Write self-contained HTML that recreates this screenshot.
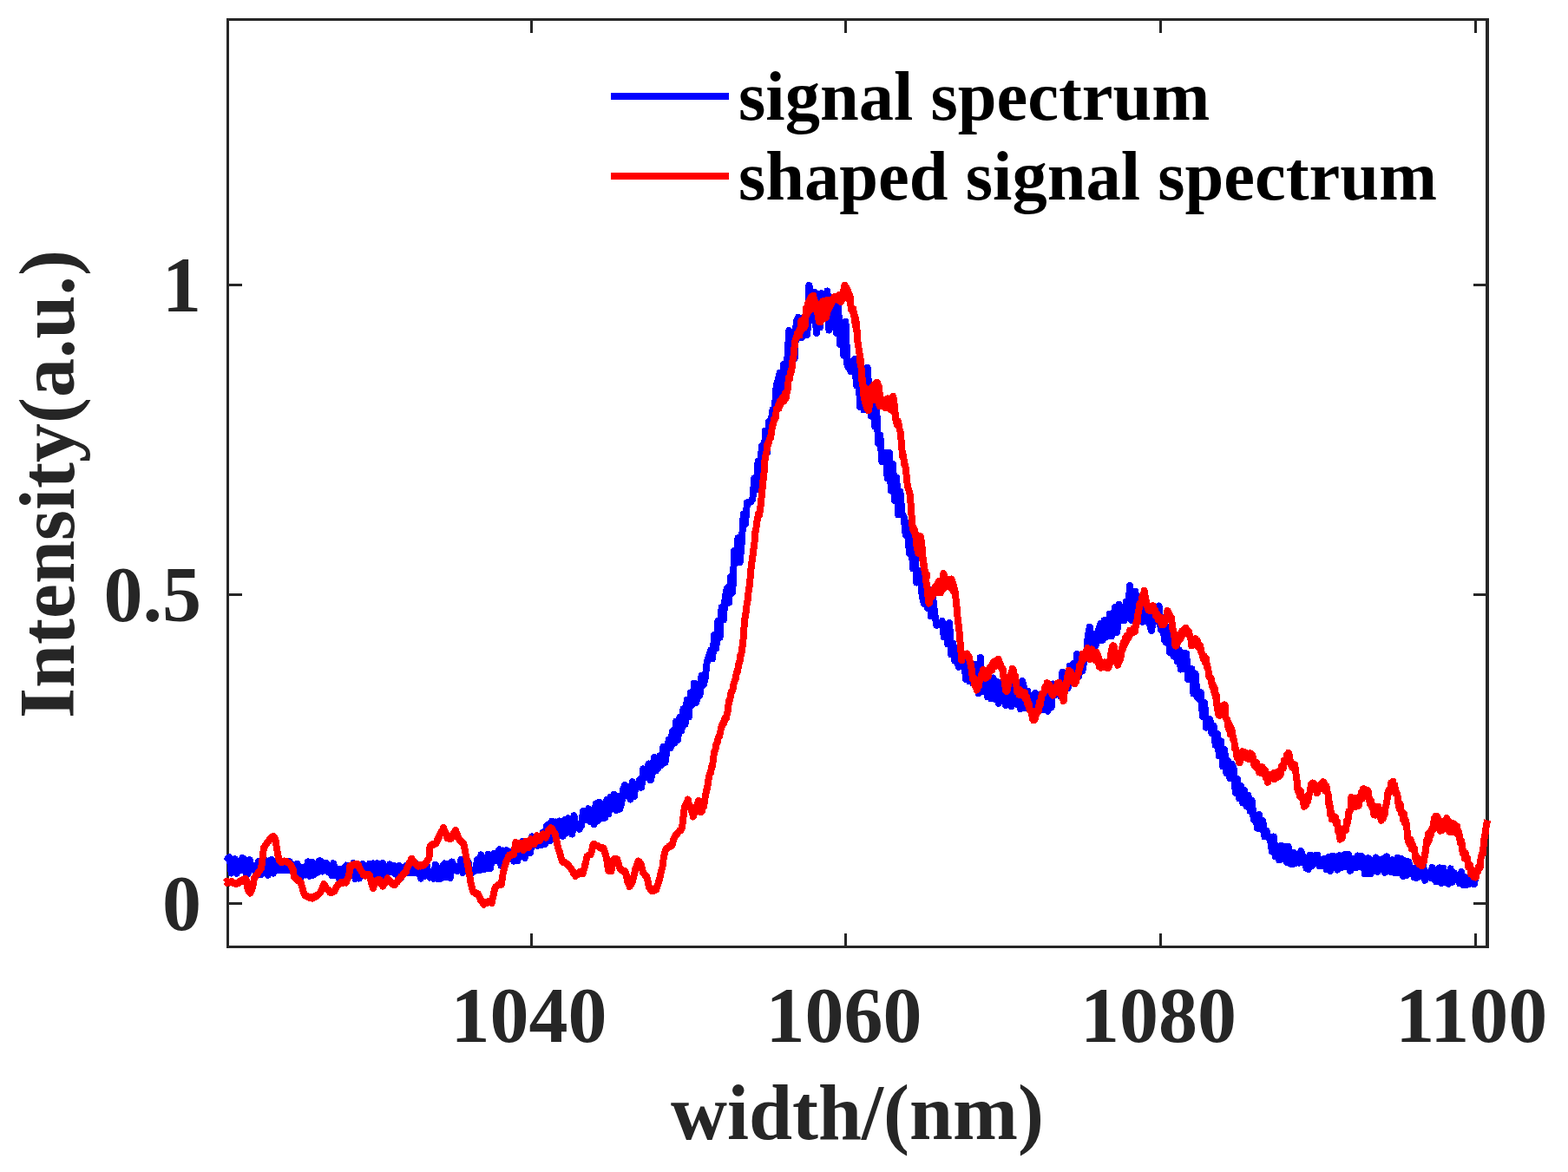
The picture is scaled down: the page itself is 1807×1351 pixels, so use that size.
<!DOCTYPE html>
<html lang="en">
<head>
<meta charset="utf-8">
<title>Signal spectrum and shaped signal spectrum</title>
<style>
html,body{margin:0;padding:0;background:#fff;}
body{width:1807px;height:1351px;overflow:hidden;}
svg{display:block;}
text{font-family:"Liberation Serif",serif;font-weight:bold;}
.tick{font-size:90px;fill:#262626;}
.lab{font-size:90px;fill:#262626;}
.leg{font-size:80.5px;fill:#000;}
</style>
</head>
<body>
<svg width="1807" height="1351" viewBox="0 0 1807 1351">
<rect x="0" y="0" width="1807" height="1351" fill="#ffffff"/>
<g fill="#262626" shape-rendering="crispEdges">
<rect x="261" y="21" width="3" height="1072"/>
<rect x="1712" y="21" width="4" height="1072"/>
<rect x="261" y="21" width="1455" height="3"/>
<rect x="261" y="1090" width="1455" height="3"/>
<rect x="611.0" y="1076" width="3" height="15"/>
<rect x="611.0" y="23" width="3" height="15"/>
<rect x="973.0" y="1076" width="3" height="15"/>
<rect x="973.0" y="23" width="3" height="15"/>
<rect x="1336.0" y="1076" width="3" height="15"/>
<rect x="1336.0" y="23" width="3" height="15"/>
<rect x="1699.0" y="1076" width="3" height="15"/>
<rect x="1699.0" y="23" width="3" height="15"/>
<rect x="263" y="327.0" width="16" height="3"/>
<rect x="1698" y="327.0" width="15" height="3"/>
<rect x="263" y="684.0" width="16" height="3"/>
<rect x="1698" y="684.0" width="15" height="3"/>
<rect x="263" y="1040.0" width="16" height="3"/>
<rect x="1698" y="1040.0" width="15" height="3"/>
</g>
<path d="M262.5,989.7 L264.6,988.2 L266.7,1006.5 L268.8,1002.5 L270.9,990.2 L273.0,1006.8 L275.1,996.6 L277.2,1002.9 L279.3,989.0 L281.4,990.8 L283.5,1006.2 L285.6,1007.5 L287.7,991.2 L289.8,1001.6 L291.9,997.6 L294.0,1003.8 L296.1,1008.1 L298.2,993.0 L300.3,1008.3 L302.4,992.0 L304.5,1006.1 L306.6,992.2 L308.7,1008.7 L310.8,992.5 L312.9,990.9 L315.0,1006.6 L317.1,996.9 L319.2,1003.1 L321.3,991.2 L323.4,1003.2 L325.5,994.2 L327.6,1003.2 L329.7,999.2 L331.8,1003.3 L333.9,993.1 L336.0,1003.3 L338.1,997.2 L340.2,1007.1 L342.3,995.7 L344.4,1008.4 L346.5,999.4 L348.6,1009.7 L350.7,999.5 L352.8,1008.5 L354.9,993.4 L357.0,1009.8 L359.1,993.5 L361.2,1008.7 L363.3,999.8 L365.4,1006.1 L367.5,992.4 L369.6,992.5 L371.7,1004.5 L373.8,995.7 L375.9,994.7 L378.0,1005.0 L380.1,999.1 L382.2,1009.0 L384.3,995.3 L386.4,1009.3 L388.5,1001.7 L390.6,1012.1 L392.7,1002.0 L394.8,1009.9 L396.9,1000.3 L399.0,997.6 L401.1,1008.8 L403.2,1008.9 L405.3,999.3 L407.4,995.1 L409.5,1012.9 L411.6,996.5 L413.7,1012.6 L415.8,997.5 L417.9,996.1 L420.0,1006.2 L422.1,1002.0 L424.2,1009.6 L426.3,995.6 L428.4,1010.6 L430.5,995.4 L432.6,1011.6 L434.7,995.2 L436.8,999.1 L438.9,1011.2 L441.0,994.9 L443.1,1008.8 L445.2,999.1 L447.3,1005.3 L449.4,996.4 L451.5,1005.4 L453.6,997.7 L455.7,1007.5 L457.8,999.5 L459.9,997.9 L462.0,1011.8 L464.1,999.6 L466.2,1005.8 L468.3,998.1 L470.4,1005.9 L472.5,995.8 L474.6,1006.1 L476.7,998.4 L478.8,1006.2 L480.9,996.1 L483.0,1006.3 L485.1,1012.5 L487.2,1000.3 L489.3,1010.2 L491.4,996.4 L493.5,1006.6 L495.6,1011.6 L497.7,1006.8 L499.8,1012.9 L501.9,996.7 L504.0,1013.0 L506.1,1002.9 L508.2,1012.8 L510.3,998.5 L512.4,995.5 L514.5,1011.3 L516.6,995.7 L518.7,1011.9 L520.8,993.4 L522.9,1003.1 L525.0,998.4 L527.1,1004.1 L529.2,1001.5 L531.3,991.0 L533.4,1005.9 L535.5,996.6 L537.6,1002.5 L539.7,994.0 L541.8,1007.8 L543.9,1005.9 L546.0,1004.4 L548.1,1002.9 L550.2,991.0 L552.3,1003.2 L554.4,985.4 L556.5,990.4 L558.6,1002.0 L560.7,997.1 L562.8,984.9 L564.9,1001.3 L567.0,988.3 L569.1,984.0 L571.2,991.8 L573.3,983.6 L575.4,979.2 L577.5,997.6 L579.6,980.5 L581.7,998.9 L583.8,980.1 L585.9,990.5 L588.0,982.3 L590.1,985.8 L592.2,992.5 L594.3,979.3 L596.4,992.5 L598.5,978.3 L600.6,985.5 L602.7,969.6 L604.8,988.9 L606.9,975.1 L609.0,973.7 L611.1,983.3 L613.2,964.4 L615.3,973.8 L617.4,965.7 L619.5,974.7 L621.6,964.8 L623.7,974.4 L625.8,959.5 L627.9,973.2 L630.0,951.9 L632.1,950.4 L634.2,968.8 L636.3,946.6 L638.4,961.6 L640.5,947.5 L642.6,963.8 L644.7,946.5 L646.8,952.9 L648.9,963.8 L651.0,945.1 L653.1,959.9 L655.2,943.3 L657.3,949.2 L659.4,961.5 L661.5,940.3 L663.6,953.1 L665.7,949.8 L667.8,955.7 L669.9,951.9 L672.0,935.1 L674.1,936.9 L676.2,944.8 L678.3,932.2 L680.4,947.2 L682.5,937.3 L684.6,950.0 L686.7,926.5 L688.8,946.3 L690.9,924.5 L693.0,926.9 L695.1,943.5 L697.2,942.5 L699.3,921.9 L701.4,938.2 L703.5,918.9 L705.6,931.9 L707.7,915.9 L709.8,933.9 L711.9,917.8 L714.0,932.9 L716.1,926.6 L718.2,909.9 L720.3,904.8 L722.4,910.0 L724.5,918.2 L726.6,921.4 L728.7,901.3 L730.8,918.1 L732.9,903.8 L735.0,906.5 L737.1,899.0 L739.2,907.8 L741.3,886.4 L743.4,896.7 L745.5,889.1 L747.6,880.5 L749.7,899.4 L751.8,891.7 L753.9,873.0 L756.0,888.5 L758.1,885.8 L760.2,871.4 L762.3,882.0 L764.4,861.0 L766.5,878.9 L768.6,864.9 L770.7,852.9 L772.8,862.4 L774.9,843.0 L777.0,856.6 L779.1,831.8 L781.2,852.8 L783.3,827.1 L785.4,842.6 L787.5,817.2 L789.6,834.7 L791.7,807.0 L793.8,826.5 L795.9,798.5 L798.0,812.2 L800.1,787.5 L802.2,810.0 L804.3,799.7 L806.4,801.8 L808.5,779.0 L810.6,789.8 L812.7,781.5 L814.8,762.5 L816.9,756.2 L819.0,749.9 L821.1,759.3 L823.2,732.1 L825.3,747.7 L827.4,716.0 L829.5,734.8 L831.6,700.3 L833.7,714.6 L835.8,687.5 L837.9,678.2 L840.0,694.7 L842.1,664.8 L844.2,682.9 L846.3,634.8 L848.4,648.8 L850.5,620.3 L852.6,648.2 L854.7,626.2 L856.8,592.8 L858.9,603.9 L861.0,579.4 L863.1,579.3 L865.2,578.4 L867.3,575.7 L869.4,551.3 L871.5,564.2 L873.6,531.7 L875.7,555.0 L877.8,514.3 L879.9,542.2 L882.0,496.5 L884.1,521.8 L886.2,486.2 L888.3,489.3 L890.4,472.5 L892.5,475.4 L894.6,445.5 L896.7,437.6 L898.8,429.8 L900.9,460.2 L903.0,420.3 L905.1,440.9 L907.2,415.8 L909.3,381.0 L911.4,390.1 L913.5,414.0 L915.6,413.6 L917.7,371.1 L919.8,366.0 L921.9,368.2 L924.0,389.2 L926.1,366.1 L928.2,382.2 L930.3,386.1 L932.4,329.0 L934.5,340.0 L936.6,368.9 L938.7,336.8 L940.8,384.0 L942.9,339.1 L945.0,377.3 L947.1,338.3 L949.2,351.8 L951.3,363.1 L953.4,335.5 L955.5,380.6 L957.6,351.5 L959.7,369.5 L961.8,352.4 L963.9,383.7 L966.0,352.3 L968.1,397.1 L970.2,375.5 L972.3,409.6 L974.4,370.9 L976.5,421.1 L978.6,424.6 L980.7,428.3 L982.8,416.4 L984.9,413.9 L987.0,444.3 L989.1,428.5 L991.2,469.0 L993.3,441.6 L995.4,472.5 L997.5,450.8 L999.6,424.0 L1001.7,452.7 L1003.8,479.5 L1005.9,460.0 L1008.0,491.2 L1010.1,471.9 L1012.2,510.9 L1014.3,501.8 L1016.4,532.4 L1018.5,527.3 L1020.6,521.9 L1022.7,551.3 L1024.8,521.9 L1026.9,565.6 L1029.0,535.1 L1031.1,577.2 L1033.2,550.5 L1035.3,593.4 L1037.4,566.4 L1039.5,592.7 L1041.6,595.7 L1043.7,616.7 L1045.8,603.4 L1047.9,638.0 L1050.0,621.6 L1052.1,655.4 L1054.2,629.4 L1056.3,671.6 L1058.4,669.9 L1060.5,658.1 L1062.6,686.3 L1064.7,695.6 L1066.8,667.3 L1068.9,701.1 L1071.0,679.5 L1073.1,710.5 L1075.2,689.1 L1077.3,708.6 L1079.4,720.7 L1081.5,719.7 L1083.6,719.6 L1085.7,715.9 L1087.8,734.1 L1089.9,722.2 L1092.0,742.3 L1094.1,718.1 L1096.2,754.4 L1098.3,741.5 L1100.4,761.7 L1102.5,747.0 L1104.6,768.7 L1106.7,756.4 L1108.8,768.5 L1110.9,757.0 L1113.0,783.1 L1115.1,757.4 L1117.2,785.4 L1119.3,765.9 L1121.4,787.4 L1123.5,765.6 L1125.6,773.8 L1127.7,799.4 L1129.8,758.0 L1131.9,796.9 L1134.0,779.7 L1136.1,789.0 L1138.2,803.5 L1140.3,783.7 L1142.4,805.5 L1144.5,781.5 L1146.6,805.7 L1148.7,785.9 L1150.8,810.8 L1152.9,787.0 L1155.0,808.2 L1157.1,794.2 L1159.2,812.9 L1161.3,792.8 L1163.4,793.2 L1165.5,814.1 L1167.6,790.3 L1169.7,792.6 L1171.8,811.7 L1173.9,798.1 L1176.0,817.2 L1178.1,785.0 L1180.2,792.7 L1182.3,816.5 L1184.4,796.7 L1186.5,815.3 L1188.6,801.6 L1190.7,822.5 L1192.8,799.1 L1194.9,817.2 L1197.0,801.3 L1199.1,803.3 L1201.2,817.8 L1203.3,800.1 L1205.4,818.2 L1207.5,819.6 L1209.6,795.1 L1211.7,815.1 L1213.8,788.5 L1215.9,801.1 L1218.0,792.3 L1220.1,789.6 L1222.2,802.3 L1224.3,774.9 L1226.4,795.4 L1228.5,776.4 L1230.6,793.1 L1232.7,767.8 L1234.8,785.1 L1236.9,765.3 L1239.0,782.4 L1241.1,753.9 L1243.2,779.4 L1245.3,760.9 L1247.4,773.7 L1249.5,759.7 L1251.6,759.2 L1253.7,734.2 L1255.8,722.6 L1257.9,748.6 L1260.0,731.0 L1262.1,744.9 L1264.2,739.4 L1266.3,725.1 L1268.4,718.8 L1270.5,738.0 L1272.6,715.2 L1274.7,734.5 L1276.8,726.7 L1278.9,707.8 L1281.0,733.4 L1283.1,711.1 L1285.2,699.9 L1287.3,728.8 L1289.4,696.9 L1291.5,715.5 L1293.6,700.8 L1295.7,715.2 L1297.8,693.5 L1299.9,709.6 L1302.0,675.0 L1304.1,715.1 L1306.2,712.6 L1308.3,681.8 L1310.4,716.0 L1312.5,687.4 L1314.6,689.8 L1316.7,716.9 L1318.8,714.1 L1320.9,716.1 L1323.0,699.3 L1325.1,720.2 L1327.2,727.2 L1329.3,702.1 L1331.4,716.4 L1333.5,707.1 L1335.6,698.5 L1337.7,725.7 L1339.8,712.0 L1341.9,737.6 L1344.0,740.5 L1346.1,723.3 L1348.2,752.1 L1350.3,732.7 L1352.4,756.0 L1354.5,732.9 L1356.6,762.5 L1358.7,749.3 L1360.8,771.5 L1362.9,752.6 L1365.0,771.4 L1367.1,753.4 L1369.2,783.1 L1371.3,775.3 L1373.4,770.9 L1375.5,799.6 L1377.6,776.8 L1379.7,803.3 L1381.8,805.7 L1383.9,798.2 L1386.0,825.9 L1388.1,809.8 L1390.2,838.7 L1392.3,836.5 L1394.4,829.2 L1396.5,845.5 L1398.6,836.6 L1400.7,858.9 L1402.8,845.7 L1404.9,871.3 L1407.0,854.3 L1409.1,883.3 L1411.2,863.9 L1413.3,891.2 L1415.4,877.2 L1417.5,897.3 L1419.6,880.9 L1421.7,886.2 L1423.8,913.8 L1425.9,897.8 L1428.0,920.3 L1430.1,905.9 L1432.2,925.3 L1434.3,911.1 L1436.4,928.8 L1438.5,916.9 L1440.6,934.9 L1442.7,923.0 L1444.8,945.0 L1446.9,939.1 L1449.0,954.6 L1451.1,939.0 L1453.2,955.6 L1455.3,946.2 L1457.4,964.5 L1459.5,957.4 L1461.6,965.2 L1463.7,964.8 L1465.8,981.5 L1467.9,964.5 L1470.0,987.5 L1472.1,975.6 L1474.2,991.3 L1476.3,974.7 L1478.4,990.3 L1480.5,975.6 L1482.6,993.7 L1484.7,976.0 L1486.8,995.7 L1488.9,996.3 L1491.0,982.6 L1493.1,995.0 L1495.2,987.7 L1497.3,994.6 L1499.4,981.0 L1501.5,993.8 L1503.6,988.1 L1505.7,1001.3 L1507.8,1001.9 L1509.9,985.6 L1512.0,998.1 L1514.1,989.7 L1516.2,985.6 L1518.3,985.6 L1520.4,998.1 L1522.5,991.8 L1524.6,998.1 L1526.7,989.7 L1528.8,1002.2 L1530.9,988.1 L1533.0,1004.0 L1535.1,987.0 L1537.2,987.1 L1539.3,990.1 L1541.4,1002.7 L1543.5,986.2 L1545.6,1000.4 L1547.7,986.4 L1549.8,984.8 L1551.9,999.1 L1554.0,985.1 L1556.1,1003.7 L1558.2,999.8 L1560.3,990.1 L1562.4,1000.3 L1564.5,986.5 L1566.6,998.7 L1568.7,987.0 L1570.8,988.9 L1572.9,1007.4 L1575.0,989.5 L1577.1,989.4 L1579.2,1007.4 L1581.3,993.1 L1583.4,1004.1 L1585.5,988.5 L1587.6,1004.9 L1589.7,990.6 L1591.8,1002.0 L1593.9,990.2 L1596.0,1005.7 L1598.1,987.4 L1600.2,1003.2 L1602.3,1004.9 L1604.4,991.3 L1606.5,1005.9 L1608.6,1006.3 L1610.7,988.7 L1612.8,1006.0 L1614.9,989.7 L1617.0,1009.9 L1619.1,992.3 L1621.2,1009.2 L1623.3,993.3 L1625.4,1004.0 L1627.5,1000.5 L1629.6,1011.3 L1631.7,1011.8 L1633.8,998.6 L1635.9,1010.5 L1638.0,1007.4 L1640.1,996.3 L1642.2,1014.7 L1644.3,1009.2 L1646.4,1005.7 L1648.5,1011.9 L1650.6,999.9 L1652.7,1012.1 L1654.8,1016.3 L1656.9,1016.4 L1659.0,1000.4 L1661.1,1018.2 L1663.2,1000.6 L1665.3,1016.8 L1667.4,1006.8 L1669.5,1018.7 L1671.6,1001.4 L1673.7,1016.7 L1675.8,1006.3 L1677.9,1012.7 L1680.0,1009.1 L1682.1,1018.3 L1684.2,1005.1 L1686.3,1020.3 L1688.4,1010.8 L1690.5,1019.9 L1692.6,1019.3 L1694.7,1010.3 L1696.8,1005.3 L1698.9,1019.3 L1701.0,1006.4" fill="none" stroke="#0000ff" stroke-width="8" stroke-linejoin="round" stroke-linecap="round" shape-rendering="crispEdges"/>
<path d="M259.5,1017.2 L260.5,1016.4 L261.6,1017.8 L262.6,1016.3 L263.6,1017.1 L264.6,1017.5 L265.7,1016.4 L266.7,1017.0 L267.8,1016.4 L268.9,1018.0 L270.0,1017.6 L271.1,1017.8 L272.2,1019.0 L273.3,1017.8 L274.4,1018.3 L275.5,1016.7 L276.7,1015.7 L277.8,1016.4 L278.9,1014.6 L280.0,1015.2 L281.1,1013.5 L282.2,1013.1 L283.3,1013.1 L284.1,1016.2 L284.8,1021.5 L285.6,1024.6 L286.5,1027.2 L287.4,1027.2 L288.3,1029.6 L289.2,1027.4 L290.2,1025.7 L291.1,1022.6 L292.2,1016.5 L293.3,1011.4 L294.4,1010.7 L295.6,1008.2 L296.7,1007.7 L297.8,1005.7 L298.9,1004.1 L300.0,1002.6 L301.1,1000.4 L302.0,994.6 L302.8,987.3 L303.9,977.1 L304.9,976.4 L305.9,973.9 L306.8,973.3 L307.8,971.6 L308.9,970.4 L310.0,969.4 L311.1,967.0 L312.2,966.9 L313.4,965.1 L314.5,964.0 L315.6,964.3 L316.7,965.9 L317.8,969.6 L318.6,975.7 L319.4,980.3 L320.2,985.6 L321.1,989.2 L322.2,992.2 L323.3,993.7 L324.4,993.9 L325.5,992.8 L326.7,993.5 L327.8,992.5 L328.9,993.1 L330.0,992.9 L331.1,994.3 L332.2,994.6 L333.3,994.9 L334.4,996.3 L335.5,997.9 L336.7,1001.1 L337.8,1002.4 L338.9,1011.0 L340.0,1011.5 L341.1,1012.4 L342.2,1014.1 L343.3,1015.1 L344.4,1014.8 L345.6,1016.6 L346.7,1017.0 L347.8,1021.5 L348.9,1024.6 L350.0,1028.9 L351.1,1031.5 L352.2,1032.8 L353.4,1032.6 L354.5,1033.8 L355.6,1033.5 L356.7,1034.7 L357.8,1034.1 L358.9,1034.0 L360.0,1035.5 L361.1,1034.6 L362.2,1034.7 L363.4,1032.8 L364.5,1033.2 L365.6,1031.5 L366.7,1031.3 L367.8,1030.2 L368.9,1029.0 L370.0,1026.8 L371.1,1024.8 L372.2,1021.3 L373.3,1019.1 L374.4,1021.1 L375.6,1022.6 L376.7,1025.2 L377.8,1025.4 L378.9,1026.5 L380.0,1028.5 L381.1,1029.2 L382.2,1029.3 L383.4,1027.6 L384.5,1028.0 L385.6,1027.5 L386.7,1024.4 L387.8,1022.1 L388.9,1021.0 L390.0,1019.3 L391.1,1019.1 L392.2,1017.5 L393.3,1016.8 L394.4,1017.0 L395.5,1017.9 L396.7,1017.4 L397.8,1016.8 L398.9,1017.5 L400.0,1013.9 L401.1,1012.2 L402.2,1009.8 L403.3,998.2 L404.4,998.2 L405.6,998.0 L406.7,996.8 L407.8,997.4 L408.9,996.2 L410.0,997.2 L411.1,995.8 L412.2,996.3 L413.3,997.6 L414.5,1001.3 L415.6,1002.6 L416.7,1005.1 L417.8,1005.9 L418.9,1008.5 L420.0,1009.1 L421.1,1009.7 L422.2,1008.3 L423.4,1009.2 L424.5,1008.0 L425.6,1008.4 L426.7,1012.0 L427.8,1017.3 L428.9,1019.8 L430.0,1024.1 L431.1,1021.1 L432.2,1018.0 L433.3,1016.4 L434.4,1014.8 L435.6,1015.7 L436.7,1013.8 L437.8,1014.3 L438.9,1016.3 L440.0,1019.8 L441.1,1021.6 L442.2,1019.6 L443.4,1018.1 L444.5,1015.4 L445.6,1014.4 L446.7,1012.4 L447.8,1014.3 L448.9,1014.8 L450.0,1015.9 L451.1,1018.0 L452.2,1018.2 L453.3,1019.9 L454.4,1020.3 L455.5,1019.8 L456.6,1016.9 L457.8,1016.7 L458.9,1014.5 L460.0,1013.6 L461.1,1011.9 L462.2,1010.2 L463.3,1010.2 L464.5,1007.6 L465.6,1007.7 L466.7,1005.7 L467.8,1005.3 L468.9,1001.5 L469.9,998.8 L470.9,997.2 L472.0,993.7 L472.8,993.4 L473.6,990.9 L474.4,989.7 L475.5,992.1 L476.6,992.1 L477.8,994.7 L478.9,996.1 L480.0,996.2 L481.1,998.1 L482.2,998.6 L483.3,997.6 L484.4,998.5 L485.6,997.3 L486.7,998.2 L487.8,997.1 L488.9,997.0 L490.0,995.9 L491.1,993.7 L492.2,992.3 L493.3,990.4 L494.4,989.6 L495.0,981.8 L495.6,975.3 L496.7,974.1 L497.8,974.5 L498.9,973.2 L500.0,973.7 L501.1,972.6 L502.2,972.6 L503.3,971.0 L504.4,967.2 L505.6,965.9 L506.7,962.6 L507.8,961.4 L508.9,957.9 L510.0,957.2 L511.1,954.0 L512.2,958.0 L513.4,959.5 L514.5,963.0 L515.6,966.4 L516.7,965.5 L517.8,966.7 L518.9,965.5 L520.0,966.5 L521.0,963.6 L522.0,962.8 L523.0,960.1 L524.0,959.5 L525.0,956.9 L526.0,960.1 L527.0,961.5 L527.9,965.4 L528.9,967.0 L530.0,969.0 L531.1,968.9 L532.2,971.3 L533.3,971.3 L534.4,973.0 L535.3,976.9 L536.3,983.1 L537.2,987.0 L538.1,992.8 L539.1,996.9 L540.0,1003.1 L540.9,1007.8 L541.9,1013.2 L542.8,1019.8 L543.7,1022.2 L544.7,1026.0 L545.6,1028.1 L546.7,1029.0 L547.8,1028.8 L548.9,1030.4 L550.0,1030.6 L551.1,1030.4 L552.2,1033.6 L553.3,1035.3 L554.4,1038.5 L555.5,1039.0 L556.7,1041.6 L557.8,1042.6 L558.9,1040.8 L560.0,1040.2 L561.1,1040.8 L562.2,1039.2 L563.3,1039.0 L564.5,1040.4 L565.6,1040.1 L566.7,1040.9 L567.8,1035.2 L568.9,1030.9 L570.0,1025.5 L571.1,1022.1 L572.2,1022.0 L573.3,1020.4 L574.5,1020.1 L575.6,1020.4 L576.7,1019.6 L577.8,1019.7 L578.9,1011.5 L580.0,1005.4 L581.1,1000.7 L582.2,998.0 L583.3,993.5 L584.4,991.5 L585.6,988.1 L586.7,985.9 L587.8,986.3 L588.9,985.2 L590.0,985.7 L591.1,984.5 L592.2,985.2 L593.3,977.3 L594.4,971.1 L595.3,974.1 L596.1,975.8 L597.0,979.3 L598.0,976.0 L599.0,974.5 L600.0,971.8 L601.0,975.4 L602.0,976.6 L603.0,980.1 L604.0,976.1 L605.0,974.0 L606.0,969.8 L607.0,973.0 L608.0,974.2 L609.0,977.2 L610.0,973.0 L611.0,970.5 L612.0,967.2 L612.9,968.3 L613.8,970.2 L614.7,971.3 L615.6,973.1 L616.7,970.1 L617.9,965.6 L619.0,963.2 L620.0,964.4 L621.0,966.3 L622.0,969.3 L623.0,966.3 L624.0,965.6 L625.0,962.3 L626.0,961.4 L627.0,962.1 L628.0,964.5 L629.0,965.6 L630.0,963.2 L631.0,959.8 L632.0,957.3 L632.9,955.9 L633.8,956.3 L634.7,954.3 L635.6,954.7 L636.7,956.1 L637.8,959.0 L638.9,959.5 L640.0,962.4 L641.1,968.0 L642.2,973.0 L643.3,978.1 L644.5,980.8 L645.6,985.3 L646.7,988.9 L647.8,993.0 L648.9,994.3 L650.0,993.4 L651.1,994.8 L652.2,994.7 L653.3,996.0 L654.4,996.9 L655.6,998.2 L656.7,1000.0 L657.8,1000.8 L658.9,1002.7 L660.0,1004.4 L661.1,1007.0 L662.2,1008.4 L663.3,1009.8 L664.4,1008.7 L665.5,1008.4 L666.7,1006.5 L667.8,1005.4 L668.8,1006.3 L669.8,1006.6 L670.7,1006.2 L671.7,1006.9 L672.6,1002.7 L673.5,1000.7 L674.4,996.4 L675.2,994.1 L675.9,989.3 L676.7,986.8 L677.8,986.3 L678.9,985.3 L680.0,985.5 L681.1,984.1 L682.2,980.1 L683.3,974.1 L684.1,974.6 L684.8,973.0 L685.6,973.5 L686.7,974.7 L687.8,975.1 L688.9,975.1 L690.0,976.2 L691.1,976.5 L692.2,977.7 L693.4,976.7 L694.5,977.7 L695.6,977.6 L696.7,981.7 L697.8,984.5 L698.9,989.1 L700.0,995.7 L701.1,1003.7 L702.2,1004.4 L703.3,1003.3 L704.4,1004.2 L705.2,1000.7 L705.9,996.2 L706.7,991.5 L707.8,990.1 L708.9,990.0 L710.0,990.1 L711.1,990.2 L712.0,992.8 L713.0,996.9 L713.9,999.9 L714.8,1001.7 L715.8,1002.0 L716.7,1003.6 L717.8,1003.3 L718.9,1005.2 L720.0,1004.3 L721.1,1005.8 L722.2,1010.6 L723.3,1016.3 L724.1,1017.8 L724.8,1019.3 L725.6,1022.0 L726.7,1019.3 L727.8,1018.9 L728.9,1016.4 L730.0,1011.3 L731.1,1007.7 L732.2,1002.0 L733.3,999.6 L734.5,995.3 L735.6,992.6 L736.7,993.1 L737.8,994.6 L738.9,996.6 L740.0,1001.9 L741.1,1006.3 L742.2,1007.1 L743.4,1009.1 L744.5,1009.4 L745.6,1011.5 L746.7,1016.1 L747.8,1022.3 L748.9,1024.0 L750.0,1026.3 L751.0,1026.9 L752.1,1025.6 L753.1,1026.7 L754.2,1025.4 L755.2,1026.0 L756.3,1025.3 L757.2,1021.8 L758.1,1020.1 L759.1,1015.8 L760.0,1013.5 L761.1,1008.4 L762.2,1003.7 L763.3,1000.4 L764.1,994.2 L764.8,988.9 L765.6,984.7 L766.7,980.7 L767.8,978.0 L768.9,977.9 L770.0,977.4 L771.1,975.5 L772.2,976.2 L773.3,974.5 L774.4,974.7 L775.2,971.7 L775.9,968.3 L776.7,965.9 L777.8,964.9 L778.9,962.2 L780.0,962.1 L781.1,960.3 L782.2,958.5 L783.4,957.2 L784.5,957.5 L785.6,955.4 L786.4,950.8 L787.2,944.6 L788.0,936.7 L788.9,930.4 L789.9,927.8 L790.8,926.4 L791.8,924.4 L792.8,921.6 L793.7,926.0 L794.7,927.8 L795.6,931.5 L796.7,933.8 L797.8,937.1 L798.9,941.5 L800.0,937.4 L801.1,934.8 L802.2,930.6 L803.1,929.2 L804.1,926.3 L805.0,923.0 L805.9,928.1 L806.9,931.5 L807.8,936.3 L808.9,934.9 L810.0,930.1 L811.1,929.7 L812.2,921.4 L813.3,916.1 L814.1,910.8 L814.8,910.1 L815.6,904.8 L816.7,897.5 L817.8,891.9 L818.9,891.0 L820.0,884.3 L821.1,882.7 L822.2,872.8 L823.3,866.3 L824.4,863.8 L825.5,857.9 L826.7,856.0 L827.8,850.3 L828.9,849.3 L830.0,844.4 L831.1,839.2 L832.2,835.8 L833.3,832.8 L834.4,833.3 L835.6,827.4 L836.7,828.4 L837.8,823.6 L838.9,818.6 L840.0,808.0 L841.1,807.2 L842.2,799.9 L843.3,796.7 L844.4,795.0 L845.6,788.2 L846.7,785.0 L847.8,782.0 L848.9,775.2 L850.0,774.1 L850.8,768.2 L851.7,763.5 L852.5,763.4 L853.4,754.9 L854.3,754.7 L855.2,746.9 L856.1,743.6 L857.2,725.6 L858.0,718.5 L858.9,708.1 L859.8,705.6 L860.8,694.9 L861.7,691.4 L862.8,679.8 L863.9,675.0 L865.0,660.5 L866.1,649.6 L867.2,643.3 L868.3,633.7 L869.4,627.1 L870.0,614.5 L871.1,611.6 L872.2,601.7 L873.3,596.9 L874.2,591.9 L875.2,593.7 L876.1,585.7 L877.0,581.7 L877.8,569.7 L878.9,560.1 L879.8,550.2 L880.6,544.3 L881.4,531.6 L882.2,525.4 L883.3,522.4 L884.4,511.5 L885.5,512.2 L886.7,506.0 L887.8,505.4 L888.9,499.3 L890.0,491.3 L891.1,488.2 L892.2,482.9 L893.3,482.8 L894.1,480.5 L894.8,471.1 L895.6,471.6 L896.6,468.2 L897.5,471.0 L898.5,463.1 L899.5,466.4 L900.5,461.3 L901.6,458.3 L902.6,463.0 L903.6,462.2 L904.6,453.6 L905.7,459.0 L906.7,452.5 L907.8,448.3 L908.9,435.3 L910.0,437.0 L911.1,428.8 L912.2,428.0 L913.3,416.0 L914.4,411.9 L915.0,402.1 L915.6,400.3 L916.7,391.2 L917.8,390.0 L918.9,384.5 L920.0,386.1 L921.1,380.6 L922.2,382.6 L923.3,375.9 L924.5,378.6 L925.6,371.9 L926.7,371.0 L927.8,364.0 L928.6,363.0 L929.4,356.7 L930.2,353.9 L930.9,351.1 L931.7,348.3 L932.6,346.5 L933.5,344.6 L934.4,342.8 L935.2,342.2 L935.9,341.7 L936.7,341.1 L937.8,343.9 L938.9,346.6 L940.0,349.4 L941.0,354.8 L942.0,360.1 L942.9,365.4 L943.9,370.8 L945.0,363.7 L946.1,356.5 L947.2,349.4 L948.0,348.3 L948.9,347.2 L949.9,353.6 L950.9,360.0 L951.9,366.4 L952.9,362.2 L954.0,358.1 L955.0,353.9 L956.0,351.9 L957.0,350.0 L957.9,348.1 L958.9,346.1 L960.0,344.5 L961.1,342.8 L962.2,343.0 L963.3,343.2 L964.5,343.5 L965.6,343.7 L966.7,343.9 L967.6,345.2 L968.5,346.5 L969.4,347.8 L970.2,344.3 L970.9,340.7 L971.7,337.2 L972.7,333.1 L973.6,329.0 L974.6,330.8 L975.7,332.6 L976.7,334.4 L977.8,337.2 L978.9,340.0 L980.0,342.8 L980.6,353.9 L981.5,355.7 L982.4,357.6 L983.3,359.4 L984.1,363.6 L985.0,367.8 L985.9,372.0 L986.7,376.1 L987.8,384.4 L988.3,392.8 L989.1,398.4 L990.0,403.9 L990.6,407.9 L991.3,412.0 L992.0,419.4 L992.8,426.7 L993.5,435.0 L994.2,443.3 L995.2,451.6 L996.1,460.0 L997.0,463.3 L998.0,466.7 L998.9,470.0 L999.8,471.6 L1000.8,473.2 L1001.6,467.6 L1002.5,462.0 L1003.5,456.0 L1004.5,450.0 L1005.5,447.7 L1006.5,445.3 L1007.5,443.0 L1008.6,442.3 L1009.7,441.6 L1010.8,440.9 L1011.9,443.4 L1013.0,446.0 L1013.8,455.0 L1014.4,462.8 L1015.2,464.3 L1015.9,465.7 L1016.7,467.2 L1017.8,464.4 L1018.9,461.7 L1019.8,464.3 L1020.8,466.8 L1021.7,469.4 L1022.5,464.4 L1023.3,459.4 L1024.2,463.5 L1025.2,467.6 L1026.1,471.7 L1027.2,466.9 L1028.3,462.0 L1029.4,457.2 L1030.0,461.4 L1030.6,465.6 L1031.7,476.7 L1032.8,485.0 L1033.7,489.1 L1034.7,485.1 L1035.6,488.7 L1036.7,494.9 L1037.8,498.1 L1038.9,511.3 L1040.0,525.4 L1041.1,525.3 L1042.2,536.2 L1043.3,536.5 L1044.4,546.3 L1045.0,550.1 L1045.6,558.6 L1046.7,563.3 L1047.8,566.7 L1048.7,569.8 L1049.5,580.0 L1050.6,595.2 L1051.4,604.4 L1052.2,610.0 L1053.3,612.6 L1054.5,615.2 L1055.6,617.8 L1056.6,618.6 L1057.5,619.4 L1058.5,620.2 L1059.5,621.0 L1060.4,621.8 L1061.4,622.6 L1060.4,625.8 L1059.3,629.0 L1058.3,632.2 L1059.4,634.7 L1060.5,637.2 L1061.7,639.7 L1062.8,642.2 L1063.6,647.2 L1064.4,652.2 L1065.0,655.0 L1065.6,657.8 L1066.4,662.3 L1067.2,669.9 L1068.1,673.4 L1068.9,682.0 L1070.0,692.0 L1071.1,694.9 L1072.2,686.0 L1073.3,684.7 L1074.4,687.3 L1075.5,679.6 L1076.7,682.7 L1077.8,676.0 L1078.9,675.6 L1080.0,674.5 L1081.1,673.3 L1082.2,672.2 L1083.1,674.4 L1084.1,676.7 L1085.0,678.9 L1086.1,670.3 L1087.2,661.7 L1088.1,666.3 L1089.1,671.0 L1090.0,675.6 L1091.1,671.7 L1092.2,667.8 L1093.3,672.2 L1094.4,676.7 L1095.6,672.2 L1096.7,667.8 L1097.6,670.8 L1098.5,673.7 L1099.4,676.7 L1100.2,681.2 L1101.1,686.5 L1102.2,695.8 L1103.3,709.0 L1104.4,718.6 L1105.2,724.0 L1106.1,734.4 L1107.2,748.6 L1108.3,761.2 L1109.3,756.1 L1110.3,755.7 L1111.3,753.8 L1112.3,754.5 L1113.3,755.5 L1114.4,753.6 L1115.5,756.2 L1116.7,756.8 L1117.8,763.5 L1118.9,765.4 L1120.0,774.6 L1121.1,783.2 L1122.2,781.6 L1123.3,789.4 L1124.4,786.5 L1125.6,795.7 L1126.7,792.7 L1127.8,791.4 L1128.9,783.5 L1130.0,783.1 L1130.9,778.2 L1131.9,779.8 L1132.8,772.1 L1133.8,777.8 L1134.8,773.1 L1135.7,781.8 L1136.7,780.9 L1137.8,775.9 L1138.9,779.6 L1140.0,770.7 L1141.1,773.5 L1142.2,767.8 L1143.3,772.4 L1144.5,763.8 L1145.6,766.9 L1146.6,762.2 L1147.6,767.8 L1148.7,761.6 L1149.7,765.8 L1150.7,759.6 L1151.7,763.6 L1152.7,765.4 L1153.7,768.0 L1154.6,771.7 L1155.6,770.5 L1156.7,783.0 L1157.8,784.6 L1158.9,795.8 L1160.0,797.0 L1161.1,794.4 L1162.2,787.8 L1163.3,786.0 L1164.4,778.2 L1165.6,779.8 L1166.7,770.8 L1167.8,772.7 L1168.9,780.9 L1170.0,778.5 L1171.1,788.8 L1172.2,797.3 L1173.3,795.4 L1174.5,800.8 L1175.6,795.3 L1176.7,800.3 L1177.8,797.1 L1178.9,802.2 L1180.0,802.5 L1181.1,798.3 L1182.2,806.1 L1183.3,803.2 L1184.4,812.0 L1185.5,810.5 L1186.7,818.8 L1187.8,819.3 L1188.8,819.4 L1189.8,828.0 L1190.7,830.2 L1191.7,828.0 L1192.7,829.5 L1193.7,821.7 L1194.6,823.3 L1195.6,818.7 L1196.7,819.9 L1197.8,809.3 L1198.9,812.7 L1200.0,803.9 L1201.1,799.5 L1202.2,800.0 L1203.3,797.4 L1204.4,791.8 L1205.5,795.0 L1206.7,787.1 L1207.8,787.9 L1208.9,789.0 L1210.0,795.5 L1211.1,794.1 L1212.2,799.9 L1213.3,801.6 L1214.4,794.3 L1215.6,799.0 L1216.7,791.5 L1217.7,795.0 L1218.7,787.6 L1219.6,793.5 L1220.6,786.8 L1221.5,794.7 L1222.4,792.8 L1223.3,801.9 L1224.4,802.3 L1225.6,808.0 L1226.7,798.4 L1227.8,792.9 L1228.9,790.7 L1230.0,779.3 L1230.8,779.1 L1231.7,772.8 L1232.7,778.9 L1233.7,774.2 L1234.6,780.6 L1235.6,778.4 L1236.5,785.7 L1237.4,785.5 L1238.3,788.4 L1239.3,782.0 L1240.2,785.6 L1241.2,778.8 L1242.2,777.1 L1243.1,775.9 L1244.1,767.3 L1245.0,768.3 L1245.9,764.0 L1246.9,762.1 L1247.8,753.6 L1248.7,759.9 L1249.6,755.1 L1250.5,759.2 L1251.4,751.2 L1252.4,754.1 L1253.3,747.1 L1254.4,752.7 L1255.4,753.2 L1256.5,759.9 L1257.5,752.0 L1258.5,748.5 L1259.5,750.4 L1260.3,754.4 L1261.2,752.7 L1262.0,757.9 L1262.8,761.2 L1263.6,751.8 L1264.4,753.9 L1265.6,756.4 L1266.7,768.5 L1267.8,763.0 L1268.9,769.8 L1270.0,763.2 L1271.1,768.6 L1272.2,766.7 L1273.3,763.5 L1274.4,769.0 L1275.6,764.1 L1276.7,770.3 L1277.8,768.0 L1278.9,765.8 L1280.0,754.6 L1280.9,750.1 L1281.9,745.6 L1282.8,744.2 L1283.9,745.4 L1285.0,757.5 L1286.1,762.4 L1287.2,759.5 L1288.3,766.8 L1289.4,760.2 L1290.6,761.0 L1291.7,756.9 L1292.6,748.0 L1293.5,749.5 L1294.4,741.4 L1295.5,744.6 L1296.7,736.0 L1297.8,740.1 L1298.9,732.5 L1300.0,735.7 L1301.1,733.5 L1302.2,726.6 L1303.3,731.1 L1304.4,726.3 L1305.6,729.2 L1306.7,724.1 L1307.8,728.4 L1308.7,722.3 L1309.7,716.5 L1310.6,717.7 L1311.4,707.9 L1312.2,704.9 L1313.3,696.1 L1314.5,696.9 L1315.6,692.8 L1316.7,686.6 L1317.8,686.2 L1318.9,680.8 L1320.0,690.1 L1321.1,693.0 L1322.2,698.8 L1323.3,703.2 L1324.4,702.4 L1325.5,704.3 L1326.7,701.2 L1327.8,703.9 L1328.9,698.1 L1330.0,705.1 L1331.1,703.1 L1332.2,710.2 L1333.3,707.6 L1334.5,714.0 L1335.6,710.3 L1336.7,711.2 L1337.8,718.0 L1338.9,720.2 L1340.0,719.6 L1341.1,720.2 L1342.2,717.3 L1343.3,713.6 L1344.2,712.1 L1345.2,704.3 L1346.1,704.5 L1347.1,711.0 L1348.0,708.4 L1349.0,714.9 L1350.0,711.8 L1351.1,724.0 L1352.2,727.0 L1353.3,732.0 L1354.4,744.5 L1355.5,744.6 L1356.7,736.7 L1357.8,740.1 L1358.9,732.3 L1360.0,736.8 L1361.1,735.0 L1362.2,727.6 L1363.3,731.9 L1364.4,726.1 L1365.5,728.8 L1366.7,723.9 L1367.8,726.3 L1368.9,727.5 L1370.0,728.0 L1371.1,732.8 L1372.2,735.3 L1373.3,744.5 L1374.4,739.8 L1375.5,737.8 L1376.7,740.2 L1377.8,736.3 L1378.9,742.9 L1380.0,738.3 L1381.1,746.2 L1382.2,742.8 L1383.3,744.6 L1384.5,752.9 L1385.6,753.6 L1386.7,759.8 L1387.8,756.2 L1388.9,763.2 L1390.0,759.1 L1391.1,769.5 L1392.2,770.4 L1393.3,780.2 L1394.4,780.2 L1395.5,781.3 L1396.7,790.5 L1397.8,788.8 L1398.8,796.8 L1399.8,793.1 L1400.7,803.7 L1401.7,800.9 L1402.5,814.2 L1403.3,818.8 L1404.2,823.8 L1405.1,816.0 L1406.0,824.8 L1407.2,814.9 L1408.3,821.7 L1409.4,813.3 L1410.6,814.4 L1411.5,812.4 L1412.4,826.5 L1413.3,828.8 L1414.4,829.5 L1415.6,839.0 L1416.7,835.1 L1417.8,846.3 L1418.9,839.0 L1420.0,843.9 L1421.1,852.0 L1422.2,853.1 L1423.3,863.4 L1424.4,863.4 L1425.5,873.0 L1426.7,868.4 L1427.8,878.8 L1428.8,878.9 L1429.8,870.1 L1430.8,873.6 L1431.9,866.2 L1432.9,873.0 L1433.9,866.6 L1434.9,870.5 L1435.9,871.8 L1436.9,868.1 L1437.9,874.5 L1438.9,872.8 L1440.0,875.0 L1441.1,868.3 L1442.2,873.8 L1443.3,870.1 L1444.5,878.6 L1445.6,882.5 L1446.7,883.5 L1447.8,878.5 L1448.9,885.4 L1450.0,883.5 L1451.1,890.4 L1452.2,884.5 L1453.3,890.8 L1454.4,883.9 L1455.6,891.7 L1456.7,891.2 L1457.8,887.4 L1458.9,896.7 L1460.0,896.2 L1461.1,901.8 L1462.2,892.8 L1463.3,898.0 L1464.5,893.1 L1465.6,896.5 L1466.7,896.3 L1467.8,891.3 L1468.9,898.4 L1470.0,890.7 L1471.1,896.8 L1472.2,890.1 L1473.3,895.3 L1474.4,891.4 L1475.5,893.9 L1476.7,883.7 L1477.8,882.7 L1478.9,885.8 L1480.0,876.5 L1481.1,879.1 L1482.2,876.6 L1483.2,870.0 L1484.2,877.6 L1485.1,867.8 L1486.1,872.9 L1487.1,878.0 L1488.0,881.6 L1489.0,884.2 L1490.0,881.0 L1491.1,885.4 L1492.2,881.3 L1493.3,890.4 L1494.4,898.5 L1495.6,911.3 L1496.7,909.5 L1497.8,918.0 L1498.9,911.8 L1500.0,919.9 L1501.0,919.4 L1502.0,925.8 L1503.0,929.9 L1504.0,925.6 L1505.1,927.8 L1506.2,917.9 L1507.2,923.7 L1508.3,916.1 L1509.2,915.1 L1510.0,911.1 L1511.1,904.0 L1512.2,902.6 L1513.3,910.4 L1514.4,903.0 L1515.5,907.6 L1516.7,906.6 L1517.8,914.3 L1518.9,910.1 L1519.9,907.3 L1520.9,905.0 L1521.8,908.6 L1522.8,903.1 L1523.8,905.4 L1524.9,901.3 L1526.1,902.8 L1527.2,911.7 L1528.4,905.9 L1529.5,913.8 L1530.5,914.9 L1531.6,929.3 L1532.4,926.1 L1533.2,938.9 L1534.0,935.7 L1534.8,944.1 L1535.6,939.6 L1536.7,941.4 L1537.8,945.8 L1538.9,941.5 L1540.0,949.4 L1541.1,947.3 L1542.2,958.7 L1543.3,958.2 L1544.4,967.6 L1545.6,966.8 L1546.7,965.8 L1547.8,957.5 L1548.9,955.2 L1550.0,957.8 L1551.1,956.9 L1552.2,945.8 L1553.3,947.6 L1554.4,935.4 L1555.6,935.4 L1556.5,933.1 L1557.4,919.1 L1558.3,920.6 L1559.4,920.3 L1560.5,919.9 L1561.7,930.0 L1562.8,928.9 L1563.8,929.4 L1564.8,922.3 L1565.8,928.6 L1566.8,918.3 L1567.8,920.8 L1568.8,913.4 L1569.8,920.6 L1570.8,909.4 L1571.8,909.2 L1572.8,911.1 L1573.8,914.5 L1574.8,918.2 L1575.8,910.7 L1576.8,912.5 L1577.8,920.6 L1578.9,926.8 L1580.0,922.8 L1581.1,930.3 L1582.2,928.1 L1583.3,939.2 L1584.4,935.2 L1585.4,939.7 L1586.3,930.8 L1587.3,937.6 L1588.3,929.8 L1589.4,937.0 L1590.6,938.5 L1591.7,945.7 L1592.8,937.4 L1593.8,943.8 L1594.9,933.6 L1595.9,938.5 L1596.7,930.2 L1597.5,928.2 L1598.3,923.8 L1599.4,913.9 L1600.4,911.1 L1601.5,913.5 L1602.5,911.8 L1603.4,902.3 L1604.3,909.4 L1605.3,900.7 L1606.3,908.8 L1607.3,904.8 L1608.3,914.6 L1609.3,913.8 L1610.4,916.2 L1611.6,927.8 L1612.7,932.2 L1613.8,926.9 L1614.9,937.3 L1616.0,935.8 L1617.0,944.4 L1618.0,938.4 L1619.0,949.0 L1620.0,945.4 L1620.8,949.3 L1621.7,958.8 L1622.6,969.0 L1623.5,969.1 L1624.4,973.3 L1625.5,967.6 L1626.7,978.0 L1627.8,973.1 L1628.9,977.6 L1630.0,978.4 L1631.1,988.6 L1632.2,992.7 L1633.3,990.9 L1634.4,989.1 L1635.5,996.5 L1636.6,991.4 L1637.8,992.3 L1638.9,998.3 L1640.0,993.5 L1641.1,992.8 L1642.2,983.1 L1643.1,981.9 L1643.9,968.9 L1644.9,972.6 L1645.8,961.5 L1646.8,968.8 L1647.8,959.8 L1648.9,962.8 L1650.0,956.4 L1651.1,953.3 L1651.9,956.3 L1652.7,943.3 L1653.5,946.7 L1654.5,941.0 L1655.5,945.3 L1656.6,941.3 L1657.7,951.1 L1658.9,946.1 L1660.0,957.7 L1661.1,953.2 L1662.1,956.9 L1663.2,949.1 L1664.2,952.8 L1665.2,946.4 L1666.2,951.5 L1667.3,942.8 L1668.3,948.0 L1669.2,946.2 L1670.2,958.3 L1671.1,954.9 L1672.1,959.3 L1673.1,952.0 L1674.2,959.4 L1675.2,949.2 L1676.2,951.5 L1677.2,953.9 L1678.2,955.4 L1679.2,952.3 L1680.1,961.7 L1681.1,958.6 L1682.0,965.1 L1683.0,972.0 L1683.9,968.8 L1684.8,973.1 L1685.6,983.0 L1686.7,980.9 L1687.8,989.4 L1688.9,983.2 L1690.0,990.9 L1691.1,988.7 L1692.2,999.6 L1693.2,996.7 L1694.2,997.5 L1695.3,1007.4 L1696.3,1005.5 L1697.2,1003.0 L1698.2,1010.7 L1699.1,1003.6 L1700.0,1008.6 L1701.0,1011.4 L1702.0,1003.2 L1703.0,1005.0 L1703.8,999.4 L1704.7,999.6 L1705.5,1000.6 L1706.7,987.8 L1707.8,984.2 L1708.9,984.1 L1710.0,969.9 L1710.8,964.2 L1711.7,960.8 L1712.6,953.1 L1713.4,948.6 L1714.3,945.5" fill="none" stroke="#ff0000" stroke-width="8" stroke-linejoin="round" stroke-linecap="butt" shape-rendering="crispEdges"/>
<path d="M925.0,353.9 L926.1,351.7 L930.0,350.6 L931.1,342.8 L933.3,337.8 L940.0,337.2 L941.1,339.4 L941.1,346.7 L943.9,347.8 L945.6,343.9 L951.7,342.2 L957.8,341.7 L958.3,338.9 L963.9,337.8 L965.6,336.1 L968.3,336.1 L968.9,329.4 L971.1,325.0 L976.1,325.0 L980.0,332.2 L980.0,336.1 L983.3,338.3 L983.9,351.7 L986.7,353.3 L987.8,360.0 L990.0,366.7 L991.1,374.4 L992.2,390.0 L984.4,390.0 L983.3,381.7 L981.1,370.6 L980.0,362.2 L977.2,358.9 L976.1,348.3 L973.3,346.1 L972.8,349.4 L967.8,351.7 L962.8,348.9 L958.9,357.8 L955.0,358.1 L953.9,370.0 L950.0,371.1 L947.8,375.0 L942.2,373.9 L940.0,366.1 L940.0,360.0 L936.1,360.0 L932.2,366.1 L932.2,375.6 L930.0,380.6 L926.1,382.8 L924.4,390.0 L913.9,390.0 L915.0,383.3 L918.9,380.6 L918.9,370.6 L921.1,366.1 L925.0,365.0 Z" fill="#ff0000" shape-rendering="crispEdges"/>
<path d="M987.2,410.0 L995.0,410.0 L996.1,415.6 L996.1,425.6 L997.2,426.7 L997.2,440.0 L998.3,443.3 L1000.6,445.0 L1002.2,443.1 L1006.1,442.8 L1006.1,440.0 L1007.2,438.3 L1009.4,436.9 L1012.8,436.9 L1015.0,440.3 L1015.0,453.1 L1016.1,453.3 L1016.1,457.2 L1020.0,456.9 L1022.8,455.0 L1024.7,456.1 L1027.2,453.1 L1031.9,453.1 L1033.1,458.9 L1033.9,459.4 L1034.2,470.0 L1035.0,470.6 L1035.3,480.0 L1036.1,482.8 L1037.8,483.3 L1038.1,485.0 L1028.1,485.0 L1027.8,478.9 L1026.7,476.7 L1023.9,475.6 L1022.8,473.9 L1018.3,473.9 L1016.7,471.7 L1011.1,471.7 L1010.0,468.9 L1008.9,467.8 L1008.9,465.0 L1006.1,465.0 L1005.0,474.4 L1003.3,475.6 L1000.8,476.9 L997.2,474.4 L996.9,470.0 L996.1,468.9 L995.8,461.1 L991.1,456.1 L991.1,446.1 L990.0,445.6 L989.2,436.7 L988.9,423.9 L987.8,423.3 L987.2,413.9 Z" fill="#ff0000" shape-rendering="crispEdges"/>
<path d="M1046.1,580.0 L1053.9,580.0 L1055.0,604.4 L1057.2,607.8 L1058.9,614.4 L1061.7,613.9 L1064.4,616.1 L1066.1,624.4 L1067.2,640.0 L1068.9,652.2 L1070.0,658.9 L1071.7,660.6 L1072.2,666.7 L1065.6,667.8 L1063.3,666.7 L1061.1,653.3 L1060.0,642.2 L1055.6,641.1 L1054.4,638.9 L1052.2,628.9 L1051.1,614.4 L1048.9,612.2 L1047.2,605.6 Z" fill="#ff0000" shape-rendering="crispEdges"/>
<path d="M1065.6,667.8 L1072.2,677.8 L1075.6,674.4 L1078.9,666.7 L1083.3,665.6 L1084.4,657.8 L1087.8,656.7 L1091.1,658.9 L1092.2,664.4 L1096.7,663.3 L1100.0,667.8 L1102.2,677.8 L1104.4,680.0 L1105.6,691.1 L1098.3,686.7 L1095.6,684.4 L1093.3,678.9 L1088.9,682.2 L1086.7,686.7 L1080.0,686.7 L1075.6,691.1 L1073.3,697.8 L1070.0,700.0 L1066.7,697.8 L1066.1,691.1 Z" fill="#ff0000" shape-rendering="crispEdges"/>
<text class="tick" x="609.5" y="1201" text-anchor="middle">1040</text>
<text class="tick" x="972.5" y="1201" text-anchor="middle">1060</text>
<text class="tick" x="1335.0" y="1201" text-anchor="middle">1080</text>
<text class="tick" x="1695.7" y="1201" text-anchor="middle">1100</text>
<text class="tick" x="232" y="358.5" text-anchor="end">1</text>
<text class="tick" x="232" y="715.5" text-anchor="end">0.5</text>
<text class="tick" x="232" y="1071.5" text-anchor="end">0</text>
<text class="lab" x="988" y="1313" text-anchor="middle">width/(nm)</text>
<text class="lab" transform="translate(85,558) rotate(-90)" text-anchor="middle">Intensity(a.u.)</text>
<rect x="704" y="107" width="136" height="8" fill="#0000ff" shape-rendering="crispEdges"/>
<rect x="704" y="199" width="136" height="8" fill="#ff0000" shape-rendering="crispEdges"/>
<text class="leg" x="851" y="138">signal spectrum</text>
<text class="leg" x="851" y="230">shaped signal spectrum</text>
</svg>
</body>
</html>
